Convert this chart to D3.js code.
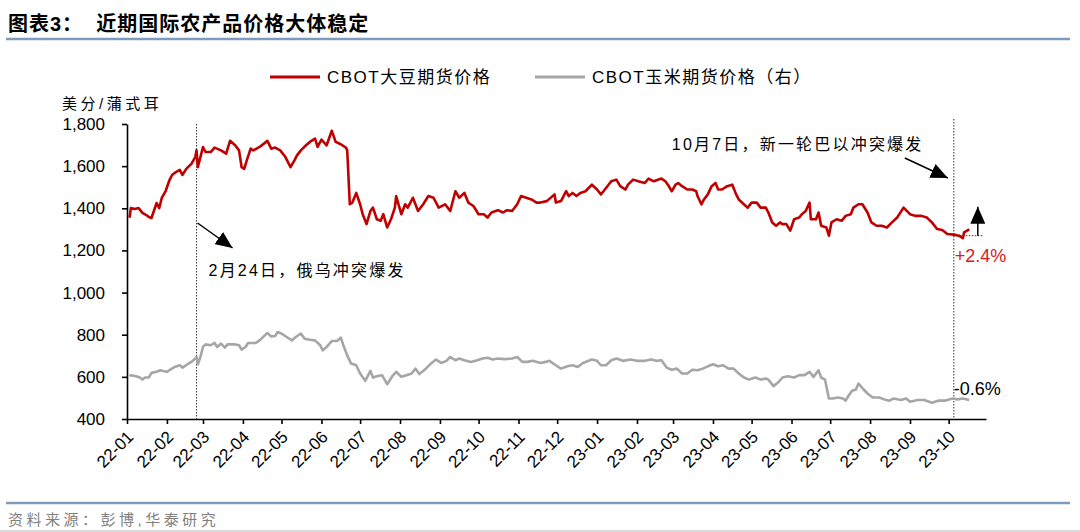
<!DOCTYPE html>
<html><head><meta charset="utf-8">
<script src="https://cdn.jsdelivr.net/npm/d3@7"></script>
<style>
body{margin:0;background:#fff;}
svg{display:block;}
text{font-family:"Liberation Sans","Noto Sans CJK SC",sans-serif;}
</style></head><body>
<svg id="c" width="1080" height="532"></svg>
<script>
// ---------- DATA ----------
const titleText = "图表3：  近期国际农产品价格大体稳定";
const sourceText = "资料来源：彭博,华泰研究";
const yAxisLabel = "美分/蒲式耳";
const seriesNames = ["CBOT大豆期货价格", "CBOT玉米期货价格（右）"];
const monthTicks = ["22-01","22-02","22-03","22-04","22-05","22-06","22-07","22-08","22-09","22-10","22-11","22-12",
                    "23-01","23-02","23-03","23-04","23-05","23-06","23-07","23-08","23-09","23-10"];
const yTicks = [400, 600, 800, 1000, 1200, 1400, 1600, 1800];
const eventDates = ["2022-02-24", "2023-10-05"];
const eventLabels = ["2月24日，俄乌冲突爆发", "10月7日，新一轮巴以冲突爆发"];
const changeLabels = ["+2.4%", "-0.6%"];
const soyRefValue = 1270;   // soybean level at 10/7

const soybean = [
["2022-01-03",1355],["2022-01-04",1401],["2022-01-07",1397],["2022-01-10",1401],["2022-01-13",1378],["2022-01-16",1368],
["2022-01-18",1359],["2022-01-20",1354],["2022-01-24",1425],["2022-01-26",1401],["2022-01-28",1449],["2022-01-31",1482],
["2022-02-03",1534],["2022-02-05",1558],["2022-02-08",1572],["2022-02-11",1582],["2022-02-13",1558],["2022-02-16",1587],
["2022-02-20",1611],["2022-02-23",1643],["2022-02-24",1675],["2022-02-25",1595],["2022-02-27",1643],
["2022-03-01",1691],["2022-03-03",1667],["2022-03-07",1667],["2022-03-10",1688],["2022-03-15",1675],["2022-03-19",1659],
["2022-03-22",1720],["2022-03-26",1699],["2022-03-29",1675],["2022-03-31",1595],
["2022-04-02",1587],["2022-04-04",1627],["2022-04-07",1683],["2022-04-09",1675],["2022-04-14",1691],["2022-04-20",1720],
["2022-04-23",1683],["2022-04-26",1688],["2022-04-30",1675],
["2022-05-04",1643],["2022-05-08",1595],["2022-05-11",1627],["2022-05-13",1651],["2022-05-16",1675],["2022-05-20",1699],
["2022-05-23",1715],["2022-05-27",1731],["2022-05-29",1691],
["2022-06-01",1726],["2022-06-05",1699],["2022-06-09",1768],["2022-06-12",1715],["2022-06-16",1704],["2022-06-20",1688],
["2022-06-21",1675],["2022-06-23",1419],["2022-06-25",1427],["2022-06-28",1473],
["2022-07-01",1419],["2022-07-03",1372],["2022-07-06",1325],["2022-07-09",1387],["2022-07-11",1403],["2022-07-14",1348],
["2022-07-17",1341],["2022-07-19",1372],["2022-07-22",1309],["2022-07-25",1348],["2022-07-28",1403],["2022-07-29",1458],
["2022-08-02",1372],["2022-08-05",1419],["2022-08-07",1403],["2022-08-11",1450],["2022-08-15",1387],["2022-08-19",1419],
["2022-08-23",1458],["2022-08-27",1450],["2022-08-31",1403],
["2022-09-05",1419],["2022-09-09",1387],["2022-09-13",1481],["2022-09-16",1450],["2022-09-20",1473],["2022-09-23",1427],
["2022-09-27",1411],
["2022-10-01",1372],["2022-10-05",1372],["2022-10-08",1356],["2022-10-11",1380],["2022-10-16",1391],["2022-10-20",1380],
["2022-10-23",1391],["2022-10-27",1387],["2022-10-31",1419],
["2022-11-03",1458],["2022-11-07",1450],["2022-11-11",1442],["2022-11-15",1427],["2022-11-18",1427],["2022-11-23",1434],
["2022-11-29",1466],["2022-11-30",1427],
["2022-12-04",1434],["2022-12-08",1481],["2022-12-10",1458],["2022-12-13",1473],["2022-12-16",1458],["2022-12-19",1473],
["2022-12-23",1481],["2022-12-28",1512],
["2023-01-01",1489],["2023-01-04",1466],["2023-01-06",1481],["2023-01-12",1528],["2023-01-16",1536],["2023-01-19",1505],
["2023-01-23",1489],["2023-01-25",1512],["2023-01-29",1536],
["2023-02-02",1528],["2023-02-07",1520],["2023-02-10",1541],["2023-02-14",1528],["2023-02-20",1541],["2023-02-23",1528],
["2023-02-25",1512],["2023-02-28",1481],
["2023-03-03",1512],["2023-03-05",1520],["2023-03-08",1505],["2023-03-12",1489],["2023-03-16",1489],["2023-03-19",1481],
["2023-03-20",1458],["2023-03-23",1419],["2023-03-25",1442],["2023-03-28",1466],["2023-03-31",1505],
["2023-04-03",1520],["2023-04-05",1489],["2023-04-08",1489],["2023-04-12",1505],["2023-04-16",1512],["2023-04-19",1466],
["2023-04-21",1442],["2023-04-25",1419],["2023-04-28",1403],
["2023-05-01",1427],["2023-05-05",1427],["2023-05-08",1403],["2023-05-12",1403],["2023-05-14",1380],["2023-05-17",1333],
["2023-05-20",1317],["2023-05-23",1333],["2023-05-25",1325],["2023-05-28",1325],["2023-05-31",1294],
["2023-06-03",1348],["2023-06-07",1356],["2023-06-09",1372],["2023-06-12",1387],["2023-06-15",1427],["2023-06-16",1348],
["2023-06-20",1348],["2023-06-22",1380],["2023-06-24",1317],["2023-06-28",1309],["2023-06-30",1270],
["2023-07-02",1333],["2023-07-06",1348],["2023-07-10",1341],["2023-07-13",1364],["2023-07-17",1372],["2023-07-19",1403],
["2023-07-23",1419],["2023-07-26",1419],["2023-07-30",1380],
["2023-08-02",1333],["2023-08-06",1317],["2023-08-10",1317],["2023-08-14",1309],["2023-08-18",1333],["2023-08-22",1356],
["2023-08-27",1403],
["2023-09-01",1372],["2023-09-05",1364],["2023-09-10",1364],["2023-09-14",1356],["2023-09-18",1333],["2023-09-22",1302],
["2023-09-26",1297],["2023-09-30",1278],
["2023-10-05",1275],["2023-10-09",1270],["2023-10-12",1258],["2023-10-13",1286],["2023-10-17",1300]
];

const corn = [
["2022-01-03",603],["2022-01-04",608],["2022-01-08",603],["2022-01-11",597],["2022-01-13",587],["2022-01-15",597],
["2022-01-18",597],["2022-01-20",619],["2022-01-24",624],["2022-01-27",631],["2022-01-29",628],
["2022-02-01",624],["2022-02-04",636],["2022-02-07",647],["2022-02-11",655],["2022-02-13",644],["2022-02-17",660],
["2022-02-20",671],["2022-02-23",687],["2022-02-24",694],["2022-02-25",660],["2022-02-27",694],
["2022-03-01",742],["2022-03-03",754],["2022-03-07",750],["2022-03-10",761],["2022-03-12",742],["2022-03-15",758],
["2022-03-18",739],["2022-03-20",754],["2022-03-26",754],["2022-03-29",750],["2022-03-31",729],
["2022-04-03",742],["2022-04-05",761],["2022-04-11",761],["2022-04-14",773],["2022-04-18",797],["2022-04-20",808],
["2022-04-23",792],["2022-04-26",794],["2022-04-28",813],
["2022-05-01",805],["2022-05-05",789],["2022-05-09",773],["2022-05-12",789],["2022-05-16",805],["2022-05-19",781],
["2022-05-23",776],["2022-05-27",773],["2022-05-31",750],
["2022-06-02",726],["2022-06-05",742],["2022-06-09",770],["2022-06-13",770],["2022-06-16",786],["2022-06-18",750],
["2022-06-21",702],["2022-06-24",663],["2022-06-28",655],
["2022-07-01",616],["2022-07-05",581],["2022-07-09",628],["2022-07-11",597],["2022-07-14",603],["2022-07-18",608],
["2022-07-22",565],["2022-07-26",603],["2022-07-29",624],
["2022-08-02",600],["2022-08-06",608],["2022-08-10",616],["2022-08-13",639],["2022-08-16",613],["2022-08-21",639],
["2022-08-25",663],["2022-08-29",682],
["2022-09-02",666],["2022-09-06",676],["2022-09-09",694],["2022-09-13",679],["2022-09-16",687],["2022-09-20",679],
["2022-09-25",671],["2022-09-30",679],
["2022-10-04",687],["2022-10-08",691],["2022-10-12",682],["2022-10-16",687],["2022-10-21",684],["2022-10-27",687],
["2022-10-31",694],
["2022-11-04",671],["2022-11-08",671],["2022-11-12",676],["2022-11-18",666],["2022-11-22",671],["2022-11-25",676],
["2022-11-30",655],
["2022-12-04",639],["2022-12-09",650],["2022-12-13",655],["2022-12-17",647],["2022-12-21",666],["2022-12-28",682],
["2023-01-01",676],["2023-01-04",655],["2023-01-08",655],["2023-01-12",679],["2023-01-16",687],["2023-01-21",676],
["2023-01-27",682],
["2023-02-01",676],["2023-02-07",676],["2023-02-12",682],["2023-02-16",676],["2023-02-20",679],["2023-02-24",644],
["2023-02-28",634],
["2023-03-04",639],["2023-03-08",616],["2023-03-12",616],["2023-03-16",634],["2023-03-20",631],["2023-03-24",639],
["2023-03-28",650],
["2023-04-01",660],["2023-04-05",650],["2023-04-09",655],["2023-04-13",639],["2023-04-17",639],["2023-04-21",616],
["2023-04-25",597],["2023-04-29",587],
["2023-05-04",597],["2023-05-08",587],["2023-05-12",592],["2023-05-14",587],["2023-05-18",556],["2023-05-22",576],
["2023-05-25",597],["2023-05-29",603],
["2023-06-03",597],["2023-06-07",608],["2023-06-11",608],["2023-06-15",624],["2023-06-18",600],["2023-06-22",631],
["2023-06-24",597],["2023-06-27",587],["2023-06-30",497],
["2023-07-03",497],["2023-07-07",502],["2023-07-11",497],["2023-07-13",487],["2023-07-15",508],["2023-07-18",534],
["2023-07-21",540],["2023-07-23",568],["2023-07-27",540],["2023-07-30",521],
["2023-08-03",502],["2023-08-08",502],["2023-08-12",493],["2023-08-16",487],["2023-08-19",497],["2023-08-25",490],
["2023-08-29",497],
["2023-09-01",482],["2023-09-07",490],["2023-09-12",490],["2023-09-18",477],["2023-09-23",487],["2023-09-28",487],
["2023-10-04",497],["2023-10-08",493],["2023-10-12",497],["2023-10-17",490]
];

// ---------- CHART ----------
const parse = d3.timeParse("%Y-%m-%d");
const svg = d3.select("#c");
svg.append("rect").attr("width",1080).attr("height",532).attr("fill","#fff");

const x = d3.scaleTime().domain([parse("2022-01-01"), parse("2023-10-30")]).range([127, 986]);
const y = d3.scaleLinear().domain([400, 1800]).range([419, 124]);

const defs = svg.append("defs");
defs.append("marker").attr("id","ah").attr("viewBox","0 0 10 10").attr("refX",10).attr("refY",5)
  .attr("markerWidth",17).attr("markerHeight",15).attr("markerUnits","userSpaceOnUse")
  .attr("preserveAspectRatio","none").attr("orient","auto")
  .append("path").attr("d","M0,0L10,5L0,10Z").attr("fill","#000");

// title
svg.append("text").attr("x",8).attr("y",31).attr("font-size",20).attr("font-weight","bold")
  .attr("letter-spacing",1).attr("fill","#000").style("white-space","pre").text(titleText);
svg.append("line").attr("x1",6).attr("x2",1070).attr("y1",39).attr("y2",39)
  .attr("stroke","#7f9bbb").attr("stroke-width",2.5);

// footer
svg.append("line").attr("x1",6).attr("x2",1070).attr("y1",503).attr("y2",503)
  .attr("stroke","#7f9bbb").attr("stroke-width",2.5);
svg.append("text").attr("x",8).attr("y",525).attr("font-size",15).attr("letter-spacing",3.5)
  .attr("fill","#808080").text(sourceText);
svg.append("line").attr("x1",0).attr("x2",1080).attr("y1",531).attr("y2",531)
  .attr("stroke","#d0d0d0").attr("stroke-width",1.5);

// legend
const colors = ["#c00000", "#a6a6a6"];
const legX = [270, 535];
seriesNames.forEach((n,i)=>{
  svg.append("line").attr("x1",legX[i]).attr("x2",legX[i]+50).attr("y1",77).attr("y2",77)
    .attr("stroke",colors[i]).attr("stroke-width",3);
  svg.append("text").attr("x",legX[i]+57).attr("y",83).attr("font-size",17).attr("letter-spacing",1.5)
    .attr("fill","#000").text(n);
});

// y label
svg.append("text").attr("x",62).attr("y",109).attr("font-size",15).attr("letter-spacing",3.5)
  .attr("fill","#000").text(yAxisLabel);

// axes
const yAxis = svg.append("g").attr("transform","translate(127,0)")
  .call(d3.axisLeft(y).tickValues(yTicks).tickFormat(d3.format(",")).tickSize(5).tickSizeOuter(0).tickPadding(17));
yAxis.selectAll("text").attr("font-size",17).attr("fill","#000").style("font-family","Liberation Sans");

const monthDates = monthTicks.map(t => parse("20" + t + "-01"));
const xAxis = svg.append("g").attr("transform","translate(0,419)")
  .call(d3.axisBottom(x).tickValues(monthDates).tickFormat((d,i)=>monthTicks[i]).tickSize(5).tickSizeOuter(0));
xAxis.selectAll("text").attr("font-size",17).attr("fill","#000").style("font-family","Liberation Sans")
  .attr("text-anchor","end").attr("x",0).attr("y",0).attr("dy",0)
  .attr("transform","translate(7,19) rotate(-45)");
[yAxis, xAxis].forEach(a=>{
  a.select(".domain").attr("stroke","#000").attr("stroke-width",1.6);
  a.selectAll(".tick line").attr("stroke","#000").attr("stroke-width",1.6);
});

// event vertical dotted lines
const evTops = [124, 119];
eventDates.forEach((d,i)=>{
  svg.append("line").attr("x1",x(parse(d))).attr("x2",x(parse(d))).attr("y1",evTops[i]).attr("y2",419)
    .attr("stroke","#333").attr("stroke-width",1).attr("stroke-dasharray","1.5,1.5");
});

// series lines
const line = d3.line().x(d=>x(parse(d[0]))).y(d=>y(d[1]));
svg.append("path").datum(corn).attr("d",line).attr("fill","none").attr("stroke",colors[1])
  .attr("stroke-width",2.6).attr("stroke-linejoin","round");
svg.append("path").datum(soybean).attr("d",line).attr("fill","none").attr("stroke",colors[0])
  .attr("stroke-width",2.6).attr("stroke-linejoin","round");

// event annotations
const e1 = x(parse(eventDates[0])), e2 = x(parse(eventDates[1]));
svg.append("line").attr("x1",e1+1).attr("y1",223).attr("x2",e1+36).attr("y2",248)
  .attr("stroke","#000").attr("stroke-width",1.5).attr("marker-end","url(#ah)");
svg.append("text").attr("x",e1+12).attr("y",276).attr("font-size",16).attr("letter-spacing",2.2)
  .attr("fill","#000").text(eventLabels[0]);
svg.append("line").attr("x1",e2-49).attr("y1",158).attr("x2",e2-6).attr("y2",178)
  .attr("stroke","#000").attr("stroke-width",1.5).attr("marker-end","url(#ah)");
svg.append("text").attr("x",e2-282).attr("y",150).attr("font-size",16).attr("letter-spacing",2.2)
  .attr("fill","#000").text(eventLabels[1]);

// change markers
const yRef = y(soyRefValue);
svg.append("line").attr("x1",e2).attr("x2",e2+29).attr("y1",yRef).attr("y2",yRef)
  .attr("stroke","#333").attr("stroke-width",1).attr("stroke-dasharray","1.5,1.5");
svg.append("line").attr("x1",e2+24).attr("x2",e2+24).attr("y1",yRef).attr("y2",yRef-29)
  .attr("stroke","#000").attr("stroke-width",1.5).attr("marker-end","url(#ah)");
svg.append("text").attr("x",e2+1).attr("y",262).attr("font-size",18).attr("fill","#d42020").text(changeLabels[0]);
svg.append("text").attr("x",e2).attr("y",395).attr("font-size",18).attr("fill","#000").text(changeLabels[1]);
</script>
</body></html>
